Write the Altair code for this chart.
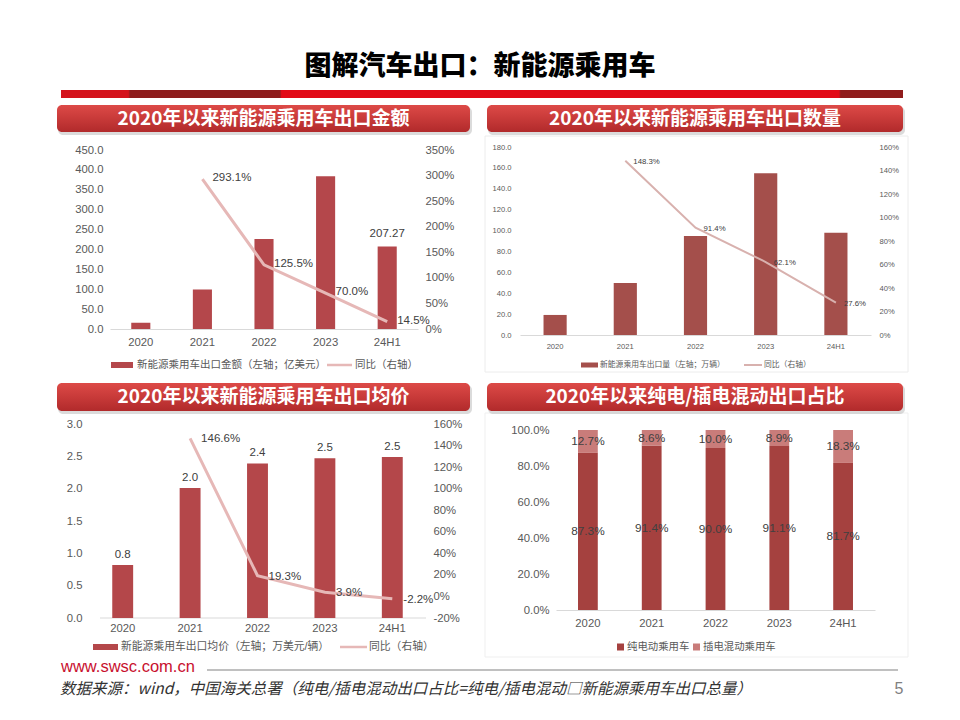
import altair as alt
import pandas as pd

FONT = "Liberation Sans, Noto Sans CJK SC, sans-serif"
CJK = "Noto Sans CJK SC, sans-serif"
GREY = "#595959"
DARK = "#404040"

# ---------------- data ----------------
cats = ["2020", "2021", "2022", "2023", "24H1"]
yoy_cats = ["2021", "2022", "2023", "24H1"]

amount = [15.8, 99.6, 226.0, 384.0, 207.27]          # 亿美元
amount_yoy = [2.931, 1.255, 0.700, 0.145]

volume = [19.2, 49.8, 94.8, 154.8, 98.0]              # 万辆
volume_yoy = [1.483, 0.914, 0.621, 0.276]

price = [0.82, 2.01, 2.39, 2.47, 2.49]                # 万美元/辆
price_yoy = [1.466, 0.193, 0.039, -0.022]

bev_share = [0.873, 0.914, 0.900, 0.911, 0.817]
phev_share = [0.127, 0.086, 0.100, 0.089, 0.183]

main_title = "图解汽车出口：新能源乘用车"
panel_titles = ["2020年以来新能源乘用车出口金额", "2020年以来新能源乘用车出口数量",
                "2020年以来新能源乘用车出口均价", "2020年以来纯电/插电混动出口占比"]
legend_bars = ["新能源乘用车出口金额（左轴；亿美元）", "新能源乘用车出口量（左轴；万辆）",
               "新能源乘用车出口均价（左轴；万美元/辆）"]
legend_line = "同比（右轴）"
series4 = ["纯电动乘用车", "插电混动乘用车"]
site = "www.swsc.com.cn"
source = "数据来源：wind，中国海关总署（纯电/插电混动出口占比=纯电/插电混动□新能源乘用车出口总量）"
page_no = "5"

one = pd.DataFrame({"k": [0]})
CW = 472  # cell width


# ---------------- helpers ----------------
def rect(x, x2, y, y2, **mk):
    return alt.Chart(one).mark_rect(**mk).encode(
        x=alt.value(x), x2=alt.value(x2), y=alt.value(y), y2=alt.value(y2))


def label(x, y, text, **mk):
    return alt.Chart(one).mark_text(text=text, **mk).encode(x=alt.value(x), y=alt.value(y))


def hline(x, x2, y, **mk):
    return alt.Chart(one).mark_rule(**mk).encode(x=alt.value(x), x2=alt.value(x2), y=alt.value(y))


BANNER_GRAD = alt.LinearGradient(
    gradient="linear",
    stops=[alt.GradientStop(color="#DD4A47", offset=0),
           alt.GradientStop(color="#C83A39", offset=0.5),
           alt.GradientStop(color="#B12A2B", offset=1)],
    x1=0, x2=0, y1=0, y2=1)


def banner(x, x2, y, y2, text):
    return [
        rect(x + 1, x2 + 2, y + 2, y2 + 3, color="#BDBDBD", opacity=0.55, cornerRadius=5),
        rect(x, x2, y, y2, color=BANNER_GRAD, cornerRadius=5),
        label((x + x2) / 2, (y + y2) / 2, text, font=CJK, fontSize=19, fontWeight="bold",
              color="white", align="center", baseline="middle"),
    ]


def xenc(px, pw, ch, pb, pi, fs, pad, domain=True):
    """band x scale placed at pixels [px, px+pw] of the cell; axis at y = pb."""
    return alt.X("cat:N", title=None,
                 scale=alt.Scale(domain=cats, range=[px, px + pw], paddingInner=pi, paddingOuter=pi / 2),
                 axis=alt.Axis(labelAngle=0, labelFont=FONT, labelFontSize=fs, labelColor=GREY,
                               labelPadding=pad, ticks=False, tickSize=0, grid=False,
                               offset=pb - ch,
                               domain=domain, domainColor="#D9D9D9", domainWidth=1))


def yaxis(orient, values, fmt, fs, pad, offset, expr=None):
    kw = dict(orient=orient, values=values, format=fmt, labelFont=FONT, labelFontSize=fs,
              labelColor=GREY, labelPadding=pad, ticks=False, tickSize=0, grid=False,
              domain=False, offset=offset, minExtent=0)
    if expr:
        kw["labelExpr"] = expr
    return alt.Axis(**kw)


def pct_text(vals):
    return [f"{v * 100:.1f}%" for v in vals]


MINUS_FIX = "replace(datum.label, '\u2212', '-')"

# ---------------- title cell ----------------
STRIPE = alt.LinearGradient(
    gradient="linear",
    stops=[alt.GradientStop(color="#D4131C", offset=0),
           alt.GradientStop(color="#D4131C", offset=0.08),
           alt.GradientStop(color="#8E1C1C", offset=0.082),
           alt.GradientStop(color="#8E1C1C", offset=0.26),
           alt.GradientStop(color="#E20A17", offset=0.262),
           alt.GradientStop(color="#E20A17", offset=0.924),
           alt.GradientStop(color="#901C1C", offset=0.926),
           alt.GradientStop(color="#901C1C", offset=1)],
    x1=0, x2=1, y1=0, y2=0)

title_cell = alt.layer(
    label(472, 59, main_title, font=CJK, fontSize=27, fontWeight=900, color="#000000",
          align="center", baseline="middle"),
    rect(53, 895, 82, 90, color=STRIPE),
).properties(width=944, height=95)

# ---------------- panel 1 ----------------
CH1 = 272
px, py, pw, ph = 102, 47, 308, 179
df1 = pd.DataFrame({"cat": cats, "val": amount})
df1y = pd.DataFrame({"cat": yoy_cats, "yoy": amount_yoy, "lbl": pct_text(amount_yoy)})
X1 = xenc(px, pw, CH1, py + ph, 0.69, 11.3, 7)
Y1 = alt.Y("val:Q", title=None, scale=alt.Scale(domain=[0, 450], range=[py + ph, py], nice=False),
           axis=yaxis("left", list(range(0, 451, 50)), ".1f", 11.3, 7, -px))
YR1 = alt.Y("yoy:Q", title=None, scale=alt.Scale(domain=[0, 3.5], range=[py + ph, py], nice=False),
            axis=yaxis("right", [0, 0.5, 1, 1.5, 2, 2.5, 3, 3.5], ".0%", 11.3, 7, px + pw - CW))
left1 = alt.layer(
    alt.Chart(df1).mark_bar(color="#B4474B").encode(x=X1, y=Y1),
    alt.Chart(df1).transform_filter(alt.datum.cat == "24H1").mark_text(
        font=FONT, fontSize=11.5, color=DARK, dy=-13, baseline="middle").encode(
        x=X1, y=Y1, text=alt.Text("val:Q", format=".2f")),
)
right1 = alt.layer(
    alt.Chart(df1y).mark_line(color="#E6B8B7", strokeWidth=3).encode(x=X1, y=YR1),
    alt.Chart(df1y).mark_text(font=FONT, fontSize=11.5, color=DARK, align="left", dx=10,
                              dy=-1, baseline="middle").encode(x=X1, y=YR1, text="lbl:N"),
)
p1 = alt.layer(
    *banner(49, 462, 2, 29, panel_titles[0]),
    left1, right1,
    rect(103, 125, 259, 265, color="#B4474B"),
    label(129, 262, legend_bars[0], font=FONT, fontSize=10.5, color=GREY, align="left", baseline="middle"),
    hline(319, 344, 262, color="#E6B8B7", strokeWidth=2.5),
    label(347, 262, legend_line, font=FONT, fontSize=10.5, color=GREY, align="left", baseline="middle"),
).resolve_scale(y="independent").properties(width=CW, height=CH1)

# ---------------- panel 2 ----------------
px, py, pw, ph = 40, 44, 351, 188
df2 = pd.DataFrame({"cat": cats, "val": volume})
df2y = pd.DataFrame({"cat": yoy_cats, "yoy": volume_yoy, "lbl": pct_text(volume_yoy)})
X2 = xenc(px, pw, CH1, py + ph, 0.67, 7.6, 7)
Y2 = alt.Y("val:Q", title=None, scale=alt.Scale(domain=[0, 180], range=[py + ph, py], nice=False),
           axis=yaxis("left", list(range(0, 181, 20)), ".1f", 7.6, 9, -px))
YR2 = alt.Y("yoy:Q", title=None, scale=alt.Scale(domain=[0, 1.6], range=[py + ph, py], nice=False),
            axis=yaxis("right", [0, 0.2, 0.4, 0.6, 0.8, 1.0, 1.2, 1.4, 1.6], ".0%", 7.6, 8, px + pw - CW))
left2 = alt.Chart(df2).mark_bar(color="#A44F4B").encode(x=X2, y=Y2)
right2 = alt.layer(
    alt.Chart(df2y).mark_line(color="#D8B1AE", strokeWidth=2).encode(x=X2, y=YR2),
    alt.Chart(df2y).mark_text(font=FONT, fontSize=7.8, color=DARK, align="left", dx=8,
                              dy=1, baseline="middle").encode(x=X2, y=YR2, text="lbl:N"),
)
p2 = alt.layer(
    rect(5, 428, 33, 269, fillOpacity=0, stroke="#ECECEC", strokeWidth=1),
    *banner(7, 423, 2, 29, panel_titles[1]),
    left2, right2,
    rect(101, 118, 259.5, 264.5, color="#A44F4B"),
    label(120, 262, legend_bars[1], font=FONT, fontSize=7.8, color=GREY, align="left", baseline="middle"),
    hline(264, 282, 262, color="#D8B1AE", strokeWidth=2),
    label(284, 262, legend_line, font=FONT, fontSize=7.8, color=GREY, align="left", baseline="middle"),
).resolve_scale(y="independent").properties(width=CW, height=CH1)

# ---------------- panel 3 ----------------
CH2 = 283
px, py, pw, ph = 81, 49, 337, 194
df3 = pd.DataFrame({"cat": cats, "val": price})
df3y = pd.DataFrame({"cat": yoy_cats, "yoy": price_yoy, "lbl": pct_text(price_yoy)})
X3 = xenc(px, pw, CH2, py + ph, 0.69, 11.3, 4, domain=False)
Y3 = alt.Y("val:Q", title=None, scale=alt.Scale(domain=[0, 3], range=[py + ph, py], nice=False),
           axis=yaxis("left", [0, 0.5, 1, 1.5, 2, 2.5, 3], ".1f", 11.3, 7, -px))
YR3 = alt.Y("yoy:Q", title=None, scale=alt.Scale(domain=[-0.2, 1.6], range=[py + ph, py], nice=False, zero=False),
            axis=yaxis("right", [-0.2, 0, 0.2, 0.4, 0.6, 0.8, 1.0, 1.2, 1.4, 1.6], ".0%", 11.3, 7,
                       px + pw - CW, MINUS_FIX))
left3 = alt.layer(
    alt.Chart(df3).mark_bar(color="#B4474A").encode(x=X3, y=Y3),
    alt.Chart(df3).mark_text(font=FONT, fontSize=11.5, color=DARK, dy=-10,
                             baseline="middle").encode(x=X3, y=Y3, text=alt.Text("val:Q", format=".1f")),
)
right3 = alt.layer(
    alt.Chart(df3y).mark_line(color="#E6B8B7", strokeWidth=3).encode(x=X3, y=YR3),
    alt.Chart(df3y).mark_text(font=FONT, fontSize=11.5, color=DARK, align="left", dx=11,
                              dy=1, baseline="middle").encode(x=X3, y=YR3, text="lbl:N"),
)
p3 = alt.layer(
    *banner(49, 462, 8, 36, panel_titles[2]),
    hline(92, 418, 243, color="#D9D9D9", strokeWidth=1),
    left3, right3,
    rect(85, 110, 269, 275, color="#B4474A"),
    label(113, 272, legend_bars[2], font=FONT, fontSize=10.8, color=GREY, align="left", baseline="middle"),
    hline(332, 359, 272, color="#E6B8B7", strokeWidth=2.5),
    label(361, 272, legend_line, font=FONT, fontSize=10.8, color=GREY, align="left", baseline="middle"),
).resolve_scale(y="independent").properties(width=CW, height=CH2)

# ---------------- panel 4 ----------------
px, py, pw, ph = 76, 55, 319, 180
shares = bev_share + phev_share
mids = [b / 2 for b in bev_share] + [b + p / 2 for b, p in zip(bev_share, phev_share)]
df4 = pd.DataFrame({
    "cat": cats * 2,
    "type": [series4[0]] * 5 + [series4[1]] * 5,
    "ord": [0] * 5 + [1] * 5,
    "share": shares,
    "mid": mids,
    "lbl": pct_text(shares),
})
X4 = xenc(px, pw, CH2, py + ph, 0.69, 11.3, 7)
Y4 = alt.Y("share:Q", title=None, stack="zero",
           scale=alt.Scale(domain=[0, 1], range=[py + ph, py], nice=False),
           axis=yaxis("left", [0, 0.2, 0.4, 0.6, 0.8, 1.0], ".1%", 11.3, 7, -px))
YM4 = alt.Y("mid:Q", title=None, scale=alt.Scale(domain=[0, 1], range=[py + ph, py], nice=False),
            axis=yaxis("left", [0, 0.2, 0.4, 0.6, 0.8, 1.0], ".1%", 11.3, 7, -px))
bars4 = alt.Chart(df4).mark_bar().encode(
    x=X4, y=Y4,
    color=alt.Color("type:N", scale=alt.Scale(domain=series4, range=["#A5413F", "#C97C7A"]), legend=None),
    order=alt.Order("ord:Q"),
)
lbl4 = alt.Chart(df4).mark_text(font=FONT, fontSize=11.8, color=DARK, baseline="middle").encode(
    x=X4, y=YM4, text="lbl:N")
p4 = alt.layer(
    rect(5, 428, 38, 282, fillOpacity=0, stroke="#EFEFEF", strokeWidth=1),
    *banner(7, 423, 8, 36, panel_titles[3]),
    bars4, lbl4,
    rect(137, 144, 268.5, 275.5, color="#A5413F"),
    label(147, 272, series4[0], font=FONT, fontSize=10.4, color=GREY, align="left", baseline="middle"),
    rect(213, 220, 268.5, 275.5, color="#C97C7A"),
    label(223, 272, series4[1], font=FONT, fontSize=10.4, color=GREY, align="left", baseline="middle"),
).properties(width=CW, height=CH2)

# ---------------- footer cell ----------------
footer = alt.layer(
    label(53, 9, site, font="Liberation Sans, Arial, sans-serif", fontSize=16.5, color="#C8102E",
          align="left", baseline="middle"),
    hline(199, 890, 12, color="#C0C0C0", strokeWidth=2),
    label(52, 31, source, font=CJK, fontSize=15.5, fontStyle="italic", color="#333333",
          align="left", baseline="middle"),
    label(891, 31, page_no, font=FONT, fontSize=16, color="#808080", align="center", baseline="middle"),
).properties(width=944, height=54)

chart = alt.vconcat(
    title_cell,
    alt.hconcat(p1, p2, spacing=0),
    alt.hconcat(p3, p4, spacing=0),
    footer,
    spacing=0,
    padding=0,
    background="white",
).configure_view(stroke=None)

chart.save("out.html", embed_options={"renderer": "svg", "actions": False})
